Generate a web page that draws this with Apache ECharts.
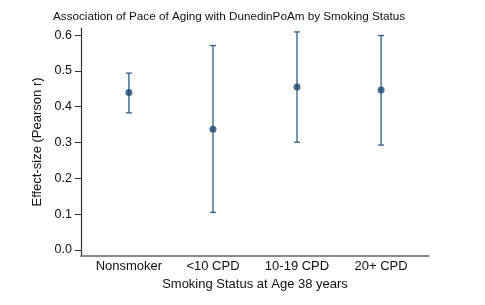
<!DOCTYPE html>
<html>
<head>
<meta charset="utf-8">
<script src="https://cdn.jsdelivr.net/npm/echarts@6/dist/echarts.min.js"></script>
<style>
    html, body { margin: 0; padding: 0; background: #fff; }
    #main { width: 485px; height: 305px; }
</style>
</head>
<body>
<div id="main"></div>
<script>
    // data
    var categories = ['Nonsmoker', '<10 CPD', '10-19 CPD', '20+ CPD'];
    var estimate = [0.440, 0.337, 0.455, 0.447];
    var ciLow = [0.383, 0.105, 0.301, 0.293];
    var ciHigh = [0.494, 0.571, 0.609, 0.599];
    var yTicks = [0, 0.1, 0.2, 0.3, 0.4, 0.5, 0.6];

    var font = 'Liberation Sans, Arial, sans-serif';
    var navy = '#1a476f';

    var pointData = categories.map(function (c, i) { return [i + 1, estimate[i]]; });
    var barData = categories.map(function (c, i) { return [i + 1, ciLow[i], ciHigh[i]]; });

    var chart = echarts.init(document.getElementById('main'));
    var option = {
        animation: false,
        backgroundColor: '#fff',
        title: {
            text: 'Association of Pace of Aging with DunedinPoAm by Smoking Status',
            left: 48,
            top: 6,
            textStyle: { fontFamily: font, fontSize: 11.7, fontWeight: 'normal', color: '#111' }
        },
        grid: { left: 81, right: 56, top: 28, bottom: 49 },
        xAxis: {
            type: 'value',
            min: 0.43,
            max: 4.57,
            name: 'Smoking Status at Age 38 years',
            nameLocation: 'middle',
            nameGap: 21,
            nameTextStyle: { fontFamily: font, fontSize: 13, color: '#111' },
            axisLine: { show: true, onZero: false, lineStyle: { color: '#666', width: 1.5 } },
            axisTick: { show: false },
            splitLine: { show: false },
            axisLabel: {
                customValues: [1, 2, 3, 4],
                formatter: function (v) { return categories[Math.round(v) - 1] || ''; },
                margin: 4,
                fontFamily: font, fontSize: 13, color: '#111'
            }
        },
        yAxis: {
            type: 'value',
            min: -0.017,
            max: 0.62,
            name: 'Effect-size (Pearson r)',
            nameLocation: 'middle',
            nameGap: 31,
            nameTextStyle: { fontFamily: font, fontSize: 13, color: '#111' },
            axisLine: { show: true, onZero: false, lineStyle: { color: '#333', width: 1.2 } },
            axisTick: { show: true, customValues: yTicks, length: 6, lineStyle: { color: '#333' } },
            splitLine: { show: false },
            axisLabel: {
                customValues: yTicks,
                formatter: function (v) { return v.toFixed(1); },
                margin: 9,
                fontFamily: font, fontSize: 12.5, color: '#111'
            }
        },
        series: [
            {
                type: 'custom',
                data: barData,
                renderItem: function (params, api) {
                    var x = api.value(0);
                    var lo = api.coord([x, api.value(1)]);
                    var hi = api.coord([x, api.value(2)]);
                    var half = 3;
                    var style = { stroke: '#2f5d84', lineWidth: 1.3 };
                    return {
                        type: 'group',
                        children: [
                            { type: 'line', shape: { x1: lo[0], y1: lo[1], x2: hi[0], y2: hi[1] }, style: style },
                            { type: 'line', shape: { x1: lo[0] - half, y1: lo[1], x2: lo[0] + half, y2: lo[1] }, style: style },
                            { type: 'line', shape: { x1: hi[0] - half, y1: hi[1], x2: hi[0] + half, y2: hi[1] }, style: style }
                        ]
                    };
                },
                z: 2
            },
            {
                type: 'scatter',
                data: pointData,
                symbol: 'circle',
                symbolSize: 7,
                itemStyle: { color: navy },
                z: 3
            }
        ]
    };
    chart.setOption(option);
</script>
</body>
</html>
